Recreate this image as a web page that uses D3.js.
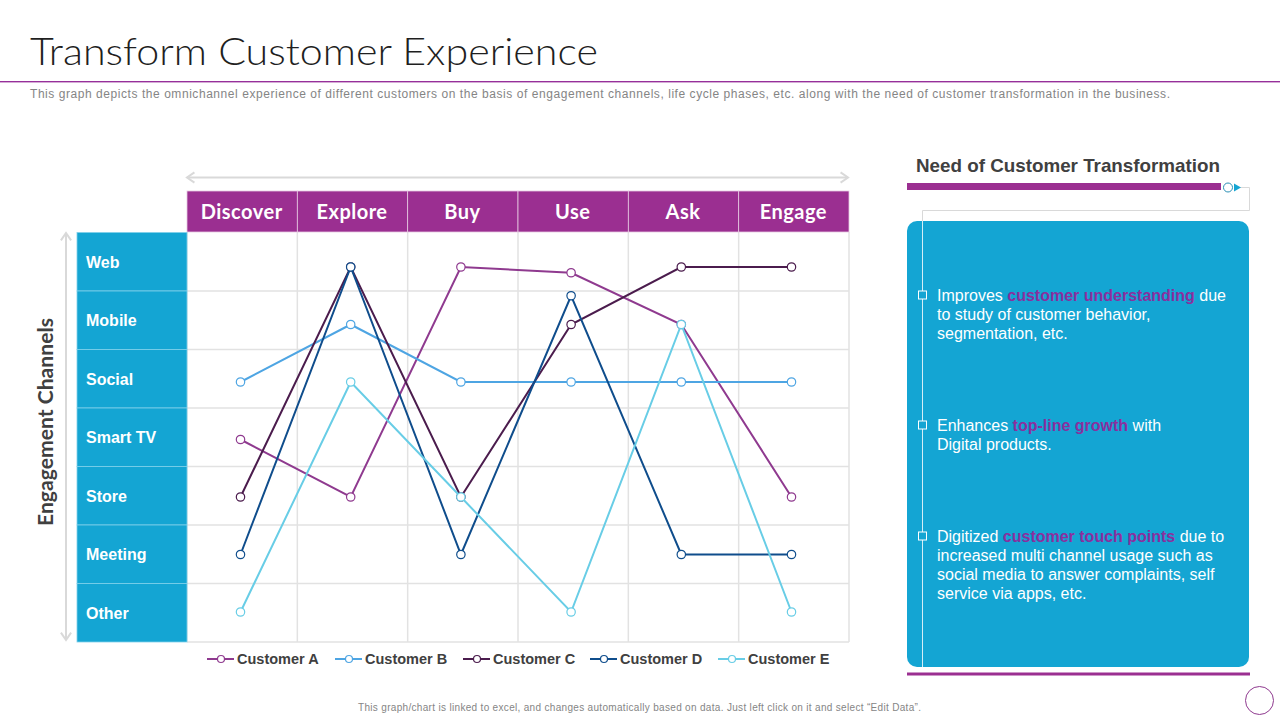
<!DOCTYPE html>
<html>
<head>
<meta charset="utf-8">
<script src="https://cdn.jsdelivr.net/npm/d3@7"></script>
<style>
html, body { margin: 0; padding: 0; background: #fff; }
svg { display: block; }
text { font-family: "Liberation Sans", Arial, sans-serif; }
</style>
</head>
<body>
<svg id="chart" width="1280" height="720"></svg>
<script>
const phases = ["Discover", "Explore", "Buy", "Use", "Ask", "Engage"];
const channels = ["Web", "Mobile", "Social", "Smart TV", "Store", "Meeting", "Other"];

// level on the channel axis: 1 = Other ... 7 = Web
const customerA = [4, 3, 7, 6.9, 6, 3];
const customerB = [5, 6, 5, 5, 5, 5];
const customerC = [3, 7, 3, 6, 7, 7];
const customerD = [2, 7, 2, 6.5, 2, 2];
const customerE = [1, 5, 3, 1, 6, 1];

const customers = ["Customer A", "Customer B", "Customer C", "Customer D", "Customer E"];
const customerValues = [customerA, customerB, customerC, customerD, customerE];
const customerColors = ["#8f3a8f", "#4ea5e3", "#4b1c4d", "#0f4d8c", "#68cde6"];

const needs = [
  [[["Improves ", 0], ["customer understanding", 1], [" due", 0]], [["to study of customer behavior,", 0]], [["segmentation, etc.", 0]]],
  [[["Enhances ", 0], ["top-line growth", 1], [" with", 0]], [["Digital products.", 0]]],
  [[["Digitized ", 0], ["customer touch points", 1], [" due to", 0]], [["increased multi channel usage such as", 0]], [["social media to answer complaints, self", 0]], [["service via apps, etc.", 0]]]
];

const PURPLE = "#9b2f91";
const BLUE = "#14a5d3";
const GRID = "#e2e2e2";
const svg = d3.select("#chart");

// heading
svg.append("text").attr("x", 30).attr("y", 65)
  .attr("textLength", 568).attr("lengthAdjust", "spacingAndGlyphs")
  .style("font-family", "Lato").style("font-weight", 300)
  .style("font-size", "38px").attr("fill", "#1f1f1f")
  .text("Transform Customer Experience");
svg.append("rect").attr("x", 0).attr("y", 81).attr("width", 1280).attr("height", 1.4)
  .attr("fill", "#96309a");
svg.append("text").attr("x", 30).attr("y", 98)
  .attr("textLength", 1140).attr("lengthAdjust", "spacing")
  .style("font-size", "12px").attr("fill", "#858585")
  .text("This graph depicts the omnichannel experience of different customers on the basis of engagement channels, life cycle phases, etc. along with the need of customer transformation in the business.");

// scales
const xBand = d3.scaleBand().domain(phases).range([187, 849]);
const yBand = d3.scaleBand().domain(channels).range([232.5, 642]);
const x = d3.scalePoint().domain(phases).range([240.5, 791.5]);
const y = d3.scaleLinear().domain([1, 7]).range([612, 267]);

// grid
const grid = svg.append("g").attr("stroke", GRID).attr("stroke-width", 1.5);
grid.selectAll(".v").data(phases.concat("end")).join("line")
  .attr("x1", d => d === "end" ? 849 : xBand(d)).attr("x2", d => d === "end" ? 849 : xBand(d))
  .attr("y1", 232).attr("y2", 642);
grid.selectAll(".h").data(channels.slice(1).concat("end")).join("line")
  .attr("x1", 187).attr("x2", 849)
  .attr("y1", d => d === "end" ? 642 : yBand(d)).attr("y2", d => d === "end" ? 642 : yBand(d));

// column headers
const head = svg.append("g").selectAll("g").data(phases).join("g");
head.append("rect").attr("x", d => xBand(d)).attr("y", 191)
  .attr("width", xBand.bandwidth()).attr("height", 41)
  .attr("fill", PURPLE).attr("stroke", "#e6c9e2").attr("stroke-width", 0.8);
head.append("text").attr("x", d => xBand(d) + xBand.bandwidth() / 2 - 0.5).attr("y", 219)
  .attr("text-anchor", "middle").attr("fill", "#fff")
  .style("font-family", "Lato").style("font-weight", 700).style("font-size", "20px")
  .style("letter-spacing", "0.5px")
  .text(d => d);

// channel labels
const side = svg.append("g").selectAll("g").data(channels).join("g");
side.append("rect").attr("x", 77).attr("y", d => yBand(d))
  .attr("width", 110).attr("height", yBand.bandwidth())
  .attr("fill", BLUE).attr("stroke", "#7fd0ea").attr("stroke-width", 0.8);
side.append("text").attr("x", 86).attr("y", d => yBand(d) + 35.3)
  .attr("fill", "#fff").style("font-weight", 700).style("font-size", "16px")
  .text(d => d);

// grey direction arrows
function arrow(x1, y1, x2, y2) {
  svg.append("line").attr("x1", x1).attr("y1", y1).attr("x2", x2).attr("y2", y2)
    .attr("stroke", "#d9d9d9").attr("stroke-width", 2);
  const a = Math.atan2(y2 - y1, x2 - x1);
  [[x1, y1, a + Math.PI], [x2, y2, a]].forEach(([px, py, t]) => {
    svg.append("path").attr("fill", "none").attr("stroke", "#d9d9d9").attr("stroke-width", 2)
      .attr("d", d3.line()([[px - 9 * Math.cos(t - 0.6), py - 9 * Math.sin(t - 0.6)], [px, py],
        [px - 9 * Math.cos(t + 0.6), py - 9 * Math.sin(t + 0.6)]]));
  });
}
arrow(187, 177.5, 848, 177.5);
arrow(66, 233, 66, 640);
svg.append("text").attr("transform", "translate(53,422) rotate(-90)")
  .attr("text-anchor", "middle").attr("fill", "#404040")
  .attr("textLength", 208).attr("lengthAdjust", "spacingAndGlyphs")
  .style("font-family", "Lato").style("font-weight", 700).style("font-size", "20px")
  .text("Engagement Channels");

// customer lines
const line = d3.line().x((d, i) => x(phases[i])).y(d => y(d));
const series = svg.append("g").selectAll("g").data(customers).join("g");
series.append("path").attr("fill", "none").attr("stroke-width", 2)
  .attr("stroke", (d, i) => customerColors[i])
  .attr("d", (d, i) => line(customerValues[i]));
series.each(function (d, i) {
  d3.select(this).selectAll("circle").data(customerValues[i]).join("circle")
    .attr("cx", (v, j) => x(phases[j])).attr("cy", v => y(v)).attr("r", 4.2)
    .attr("fill", "#fff").attr("stroke", customerColors[i]).attr("stroke-width", 1.2);
});

// legend
const legendX = d3.scaleOrdinal().domain(customers).range([207, 335, 463, 590, 718]);
const legend = svg.append("g").selectAll("g").data(customers).join("g")
  .attr("transform", d => `translate(${legendX(d)},659)`);
legend.append("line").attr("x1", 0).attr("x2", 27)
  .attr("stroke", (d, i) => customerColors[i]).attr("stroke-width", 2);
legend.append("circle").attr("cx", 14).attr("r", 3.5).attr("fill", "#fff")
  .attr("stroke", (d, i) => customerColors[i]).attr("stroke-width", 1.2);
legend.append("text").attr("x", 30).attr("y", 5)
  .attr("fill", "#404040").style("font-weight", 700).style("font-size", "14.5px")
  .text(d => d);

// right panel
svg.append("text").attr("x", 916).attr("y", 171.5)
  .attr("textLength", 304).attr("lengthAdjust", "spacingAndGlyphs")
  .attr("fill", "#404040").style("font-weight", 700).style("font-size", "18.5px")
  .text("Need of Customer Transformation");
svg.append("rect").attr("x", 907).attr("y", 183).attr("width", 314).attr("height", 7).attr("fill", PURPLE);
svg.append("rect").attr("x", 907).attr("y", 221).attr("width", 342).attr("height", 446).attr("rx", 10).attr("fill", BLUE);
svg.append("rect").attr("x", 907).attr("y", 672.5).attr("width", 343).attr("height", 3).attr("fill", PURPLE);
svg.append("path").attr("fill", "none").attr("stroke", "#d9d9d9").attr("stroke-width", 1)
  .attr("d", "M1240,187.5H1249.5V210.5H922.5V221");
svg.append("line").attr("x1", 922.5).attr("x2", 922.5).attr("y1", 221).attr("y2", 667)
  .attr("stroke", "#d5eef7").attr("stroke-width", 1);
svg.append("circle").attr("cx", 1228).attr("cy", 187.5).attr("r", 4.5)
  .attr("fill", "#fff").attr("stroke", "#2a8fb5").attr("stroke-width", 1);
svg.append("path").attr("d", "M1234,183.5L1241,187.5L1234,191.5Z").attr("fill", BLUE);

const needTop = [301, 431, 542];
needs.forEach((para, i) => {
  svg.append("rect").attr("x", 918.5).attr("y", needTop[i] - 10).attr("width", 8).attr("height", 8)
    .attr("fill", BLUE).attr("stroke", "#fff").attr("stroke-width", 1);
  para.forEach((parts, j) => {
    const t = svg.append("text").attr("x", 937).attr("y", needTop[i] + j * 19)
      .attr("xml:space", "preserve").style("white-space", "pre").style("font-size", "16px").attr("fill", "#fff");
    parts.forEach(([s, hi]) => {
      t.append("tspan").text(s).attr("fill", hi ? "#8a2f9e" : "#fff").style("font-weight", hi ? 700 : 400);
    });
  });
});

// footer
svg.append("text").attr("x", 358).attr("y", 711)
  .attr("textLength", 563).attr("lengthAdjust", "spacing")
  .style("font-size", "10px").attr("fill", "#858585")
  .text("This graph/chart is linked to excel, and changes automatically based on data. Just left click on it and select “Edit Data”.");
svg.append("circle").attr("cx", 1259.5).attr("cy", 700.5).attr("r", 14)
  .attr("fill", "none").attr("stroke", "#8f3a8f").attr("stroke-width", 1);
</script>
</body>
</html>
